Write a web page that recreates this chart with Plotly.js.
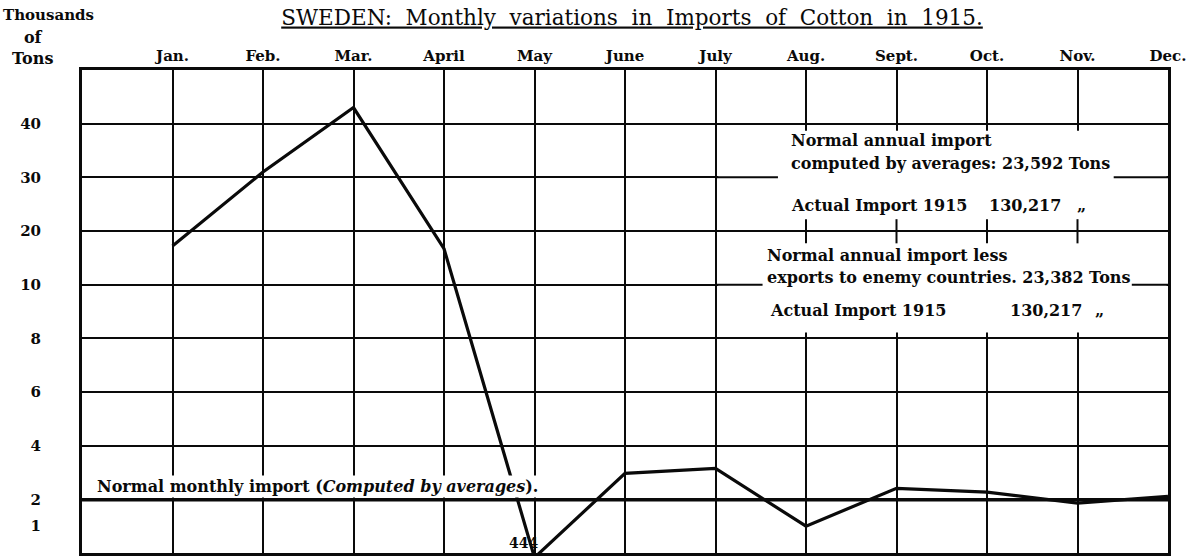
<!DOCTYPE html>
<html>
<head>
<meta charset="utf-8">
<script src="https://cdn.plot.ly/plotly-3.0.1.min.js"></script>
<style>
  html, body { margin: 0; padding: 0; background: #fff; }
  #chart { width: 1204px; height: 557px; }
</style>
</head>
<body>
<div id="chart"></div>
<script>
// ---- data (thousands of tons) ----
const months = ['Jan.', 'Feb.', 'Mar.', 'April', 'May', 'June', 'July', 'Aug.', 'Sept.', 'Oct.', 'Nov.', 'Dec.'];
const monthIndex = [1, 2, 3, 4, 5, 6, 7, 8, 9, 10, 11, 12];
const imports = [17.2, 31, 43, 16.7, 0.444, 2.97, 3.15, 1.0, 2.41, 2.27, 1.81, 2.11];
const gridValues = [2, 4, 6, 8, 10, 20, 30, 40];
const tickValues = [1, 2, 4, 6, 8, 10, 20, 30, 40];
const tickLabels = ['1', '2', '4', '6', '8', '10', '20', '30', '40'];
const topValue = 50;
const normalAnnual = 23592;          // tons
const normalLessExports = 23382;     // tons
const actualImport1915 = 130217;     // tons

// ---- the chart's own broken scale: 0.5-2 log, 2-10 by 2s, 10-50 by 10s ----
function pos(v) {
  if (v >= 10) return 5 + (v - 10) / 10;
  if (v >= 2) return 1 + (v - 2) / 2;
  return 1 + 0.5 * Math.log2(v / 2);
}
const fmt = n => n.toLocaleString('en-US');

const FONT = 'DejaVu Serif';
const INK = '#0a0a0a';

const normalMonthly = normalAnnual / 12 / 1000;

const traces = [
  {
    x: [0, 12], y: [pos(normalMonthly), pos(normalMonthly)],
    mode: 'lines', line: { color: INK, width: 3 }, hoverinfo: 'skip', showlegend: false
  },
  {
    x: monthIndex, y: imports.map(pos),
    mode: 'lines', line: { color: INK, width: 3.2 }, hoverinfo: 'skip', showlegend: false
  },
  { // carrier for the left-hand value labels
    x: [0], y: [pos(2)], yaxis: 'y2', mode: 'markers',
    marker: { opacity: 0 }, hoverinfo: 'skip', showlegend: false
  }
];

const yRange = [0, pos(topValue)];

// white box that blanks the grid behind the right-hand notes, and the lines that remain
const lineStyle = { color: INK, width: 2 };
const shapes = [
  { type: 'rect', xref: 'x', yref: 'y', x0: 7.03, x1: 11.985, y0: 4.11, y1: 7.87,
    fillcolor: '#fff', line: { width: 0 }, layer: 'above' },
  { type: 'line', xref: 'x', yref: 'y', x0: 7, x1: 7.69, y0: pos(30), y1: pos(30), line: lineStyle, layer: 'above' },
  { type: 'line', xref: 'x', yref: 'y', x0: 11.4, x1: 12, y0: pos(30), y1: pos(30), line: lineStyle, layer: 'above' },
  { type: 'line', xref: 'x', yref: 'y', x0: 7, x1: 12, y0: pos(20), y1: pos(20), line: lineStyle, layer: 'above' },
  { type: 'line', xref: 'x', yref: 'y', x0: 7, x1: 7.52, y0: pos(10), y1: pos(10), line: lineStyle, layer: 'above' },
  { type: 'line', xref: 'x', yref: 'y', x0: 11.6, x1: 12, y0: pos(10), y1: pos(10), line: lineStyle, layer: 'above' }
];
[8, 9, 10, 11].forEach(m => shapes.push({
  type: 'line', xref: 'x', yref: 'y', x0: m, x1: m, y0: pos(20) - 0.23, y1: pos(20) + 0.22,
  line: lineStyle, layer: 'above'
}));

const noteFont = { family: FONT, size: 16, color: INK, weight: 'bold' };
function note(text, x, y, extra) {
  return Object.assign({ text: text, x: x, y: y, xref: 'x', yref: 'y', showarrow: false,
    xanchor: 'left', yanchor: 'middle', font: noteFont }, extra || {});
}
const capFont = { family: FONT, size: 16, color: INK, weight: 'bold' };

const annotations = [
  // y-axis caption
  { text: 'Thousands', xref: 'paper', yref: 'paper', x: -0.0745, y: 1.114,
    xanchor: 'left', yanchor: 'middle', showarrow: false,
    font: { family: FONT, size: 15, color: INK, weight: 'bold' } },
  { text: 'of<br>Tons', xref: 'paper', yref: 'paper', x: -0.046, y: 1.046,
    xanchor: 'center', yanchor: 'middle', showarrow: false, align: 'center', font: capFont },
  // right-hand notes
  note('Normal annual import', 7.81, 7.68),
  note('computed by averages: ' + fmt(normalAnnual) + ' Tons', 7.81, 7.25),
  note('Actual Import 1915', 7.81, 6.48),
  note(fmt(actualImport1915), 10.0, 6.48),
  note('\u201E', 10.97, 6.48),
  note('Normal annual import less', 7.55, 5.55),
  note('exports to enemy countries. ' + fmt(normalLessExports) + ' Tons', 7.55, 5.14),
  note('Actual Import 1915', 7.58, 4.51),
  note(fmt(actualImport1915), 10.23, 4.51),
  note('\u201E', 11.17, 4.51),
  // normal monthly line caption
  note('Normal monthly import (<i>Computed by averages</i>).', 0.14, pos(2),
    { yanchor: 'bottom', yshift: 1, bgcolor: '#fff', borderpad: 1 }),
  // off-scale May value in tons
  note(String(Math.round(imports[4] * 1000)), 5, 0,
    { xanchor: 'right', yanchor: 'bottom', xshift: 5, yshift: 0,
      font: { family: FONT, size: 14, color: INK, weight: 'bold' } })
];

const layout = {
  width: 1204, height: 557,
  margin: { l: 82, r: 36, t: 70, b: 4 },
  paper_bgcolor: '#fff', plot_bgcolor: '#fff',
  title: {
    text: '<u>SWEDEN:  Monthly  variations  in  Imports  of  Cotton  in  1915.</u>',
    font: { family: FONT, size: 21.5, color: INK },
    x: 632 / 1204, xanchor: 'center', xref: 'container',
    y: 1 - 17 / 557, yanchor: 'middle', yref: 'container'
  },
  xaxis: {
    range: [0, 12], side: 'top', tickvals: monthIndex, ticktext: months,
    ticks: '', ticklabelstandoff: 0,
    tickfont: { family: FONT, size: 15, color: INK, weight: 'bold' },
    showgrid: true, gridcolor: INK, gridwidth: 2,
    showline: true, mirror: true, linecolor: INK, linewidth: 3,
    zeroline: false, fixedrange: true
  },
  yaxis: {
    range: yRange, tickvals: gridValues.map(pos), showticklabels: false, ticks: '',
    showgrid: true, gridcolor: INK, gridwidth: 2,
    showline: true, mirror: true, linecolor: INK, linewidth: 3,
    zeroline: false, fixedrange: true
  },
  yaxis2: {
    range: yRange, overlaying: 'y', side: 'left',
    tickvals: tickValues.map(pos), ticktext: tickLabels,
    ticks: '', ticklabelstandoff: 40, showgrid: false, zeroline: false, showline: false,
    tickfont: { family: FONT, size: 15, color: INK, weight: 'bold' }, fixedrange: true
  },
  shapes: shapes,
  annotations: annotations,
  showlegend: false,
  hovermode: false
};

Plotly.newPlot('chart', traces, layout, { staticPlot: true, displayModeBar: false });
</script>
</body>
</html>
